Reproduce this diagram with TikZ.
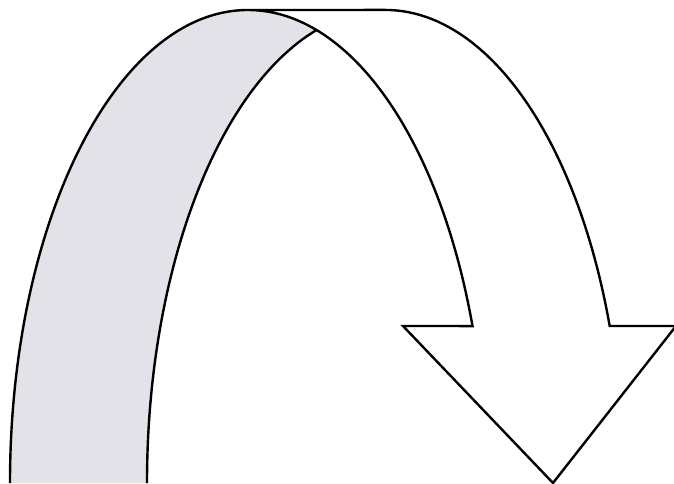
\documentclass[tikz,border=0pt]{standalone}
\begin{document}
\begin{tikzpicture}[x=1pt,y=1pt,
  outline/.style={line width=2.4pt,line join=miter,draw=black},
  ribbon/.style={fill={rgb,255:red,226;green,226;blue,232}},
  ell/.style={x radius=238pt,y radius=473pt}]
\useasboundingbox (0,0) rectangle (674,483);
% centres of the two elliptical edges of the ribbon
\coordinate (c1) at (248,0);
\coordinate (c2) at (385,0);
\coordinate (s1) at (10,0);
\coordinate (s2) at (147,0);
% shaded back side of the ribbon
\fill[ribbon] (s1) arc[start angle=180,end angle=73.27,ell]
  arc[start angle=106.73,end angle=180,ell] -- cycle;
% arrow outline
\draw[outline] (s1) arc[start angle=180,end angle=19.38,ell]
  -- (403,157) -- (553,0) -- (676,157) -- (609.7,157)
  arc[start angle=19.38,end angle=90,ell] -- (248,473);
% inner edge of the ribbon
\draw[outline] (s2) arc[start angle=180,end angle=106.73,ell];
\end{tikzpicture}
\end{document}
